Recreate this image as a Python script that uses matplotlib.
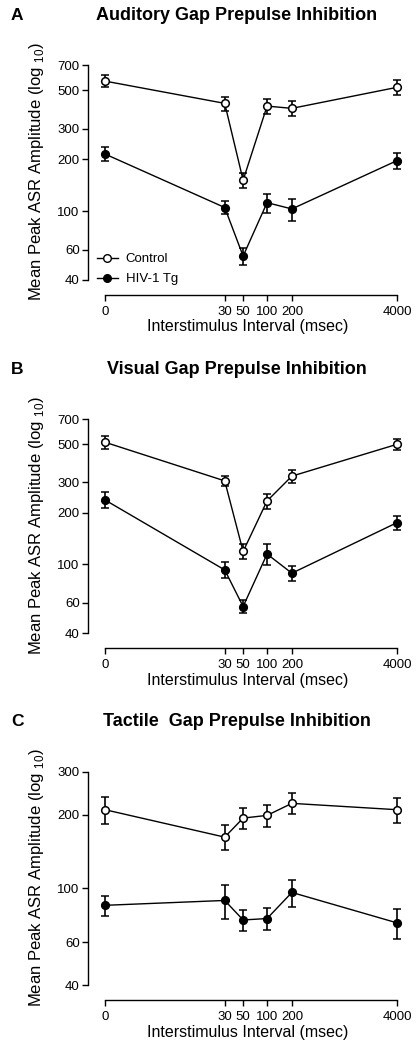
import numpy as np
import matplotlib.pyplot as plt
from matplotlib.lines import Line2D

plt.rcParams['font.family'] = ['Liberation Sans', 'DejaVu Sans']
plt.rcParams['mathtext.fontset'] = 'custom'
plt.rcParams['mathtext.rm'] = 'Liberation Sans'

isi_labels = ['0', '30', '50', '100', '200', '4000']
isi_pos = [0, 4.1, 4.73, 5.55, 6.4, 10]

titles = ['Auditory Gap Prepulse Inhibition',
          'Visual Gap Prepulse Inhibition',
          'Tactile  Gap Prepulse Inhibition']
letters = ['A', 'B', 'C']

# panel A
ctrl_a = [565, 420, 151, 405, 393, 520]
ctrl_a_err = [45, 40, 15, 40, 40, 50]
hiv_a = [214, 105, 55, 112, 103, 196]
hiv_a_err = [20, 9, 6, 14, 15, 21]
# panel B
ctrl_b = [513, 306, 119, 234, 326, 499]
ctrl_b_err = [47, 22, 12, 24, 30, 35]
hiv_b = [237, 93, 57, 115, 89, 175]
hiv_b_err = [25, 10, 5, 16, 9, 17]
# panel C
ctrl_c = [210, 162, 194, 199, 223, 210]
ctrl_c_err = [27, 19, 19, 20, 22, 25]
hiv_c = [85, 89, 74, 75, 96, 72]
hiv_c_err = [8, 14, 7.5, 7.5, 12, 10]

yticks_ab = [40, 60, 100, 200, 300, 500, 700]
yticks_c = [40, 60, 100, 200, 300]

panels = [
    (ctrl_a, ctrl_a_err, hiv_a, hiv_a_err, yticks_ab, 65, 295),
    (ctrl_b, ctrl_b_err, hiv_b, hiv_b_err, yticks_ab, 419, 648),
    (ctrl_c, ctrl_c_err, hiv_c, hiv_c_err, yticks_c, 772, 1000),
]

W, H = 419, 1050
fig = plt.figure(figsize=(W / 100, H / 100), dpi=100)

left_px, first_px, last_px, right_px = 88, 105, 397, 408
unit = (last_px - first_px) / (isi_pos[-1] - isi_pos[0])
xlo = isi_pos[0] - (first_px - left_px) / unit
xhi = isi_pos[-1] + (right_px - last_px) / unit

for i, (cm, ce, hm, he, yt, top_px, bot_px) in enumerate(panels):
    ymax, ymin = yt[-1], yt[0]
    # x axis sits 15 px below the lowest y tick
    lo = 10 ** (np.log10(ymin) - 15 * (np.log10(ymax) - np.log10(ymin)) / (bot_px - 15 - top_px))
    ax = fig.add_axes([left_px / W, 1 - bot_px / H, (right_px - left_px) / W, (bot_px - top_px) / H])
    ax.set_yscale('log')
    ax.set_ylim(lo, ymax)
    ax.set_xlim(xlo, xhi)

    ax.errorbar(isi_pos, cm, yerr=ce, fmt='-o', color='black', mfc='white', mec='black',
                ms=5.5, lw=1, elinewidth=1.2, capsize=3, capthick=1.2, mew=1.1,
                clip_on=False, zorder=3)
    ax.errorbar(isi_pos, hm, yerr=he, fmt='-o', color='black', mfc='black', mec='black',
                ms=5.5, lw=1, elinewidth=1.2, capsize=3, capthick=1.2, mew=1.1,
                clip_on=False, zorder=3)

    for s in ['top', 'right']:
        ax.spines[s].set_visible(False)
    ax.spines['left'].set_bounds(ymin, ymax)
    ax.spines['bottom'].set_bounds(isi_pos[0], isi_pos[-1])
    ax.spines['left'].set_linewidth(1)
    ax.spines['bottom'].set_linewidth(1)

    ax.set_yticks(yt)
    ax.set_yticklabels([str(v) for v in yt])
    ax.yaxis.set_minor_locator(plt.NullLocator())
    ax.set_xticks(isi_pos)
    ax.set_xticklabels(isi_labels)
    ax.tick_params(axis='both', labelsize=9.5, length=4, width=1, pad=2, colors='black')
    ax.tick_params(axis='x', pad=4)

    ax.set_ylabel('Mean Peak ASR Amplitude (log $_{10}$)', fontsize=12)
    ax.yaxis.set_label_coords(-0.13, 0.535)
    ax.set_xlabel('Interstimulus Interval (msec)', fontsize=11.5, labelpad=1)

    fig.text(237 / W, 1 - (top_px - 50) / H, titles[i], fontsize=13, fontweight='bold',
             ha='center', va='center')
    fig.text(11 / W, 1 - (top_px - 50) / H, letters[i], fontsize=12.5, fontweight='bold',
             ha='left', va='center')

    if i == 0:
        handles = [Line2D([], [], color='black', marker='o', mfc='white', mec='black', ms=5.5, lw=1),
                   Line2D([], [], color='black', marker='o', mfc='black', mec='black', ms=5.5, lw=1)]
        ax.legend(handles, ['Control', 'HIV-1 Tg'], loc='lower left', bbox_to_anchor=(-0.01, -0.01),
                  frameon=False, fontsize=9.5, handlelength=1.6, handletextpad=0.6,
                  labelspacing=0.6)

fig.savefig('out.png', dpi=100)
